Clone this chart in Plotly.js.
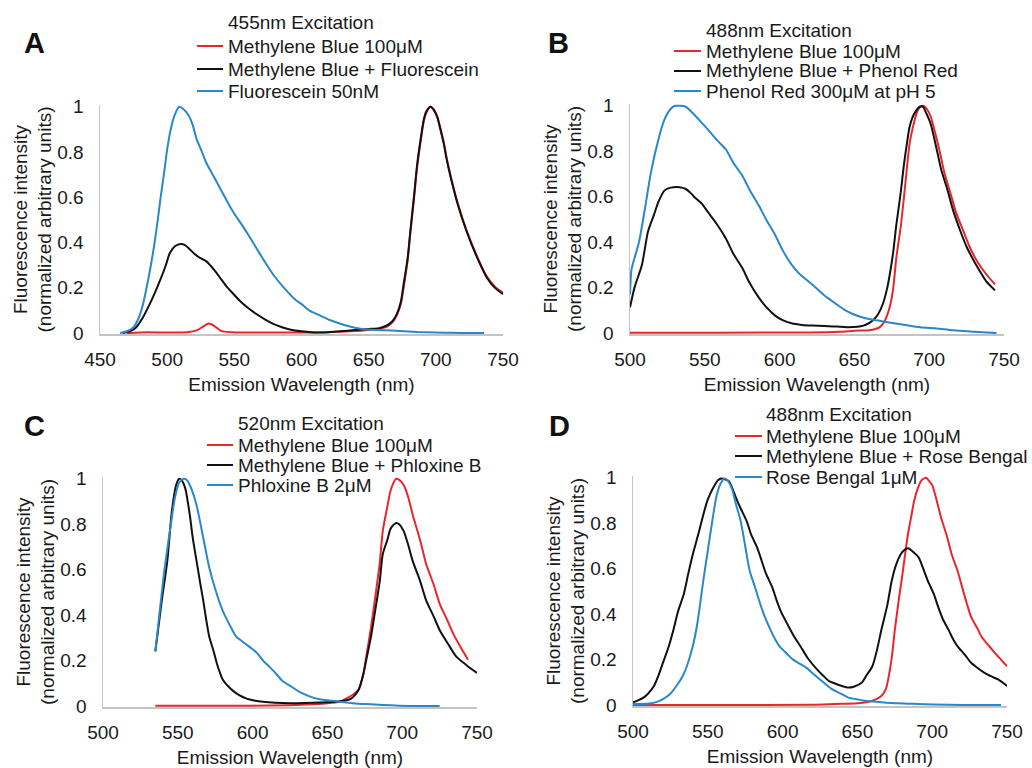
<!DOCTYPE html>
<html>
<head>
<meta charset="utf-8">
<script src="https://cdn.plot.ly/plotly-3.0.1.min.js"></script>
<style>html,body{margin:0;padding:0;background:#fff;}#chart{width:1032px;height:768px;}</style>
</head>
<body>
<div id="chart"></div>
<script>
// ---------- Panel A : 455nm Excitation ----------
const aRedX = [470, 480, 500, 515, 522, 527, 531, 535, 540, 548, 560, 580, 600, 620, 636, 650, 658, 664, 668, 671, 674, 676, 679, 681, 684, 686, 689, 691, 693, 696, 698, 701, 703, 706, 708, 711, 716, 723, 731, 738, 744, 750];
const aRedY = [0, 0.003, 0.003, 0.004, 0.012, 0.03, 0.042, 0.032, 0.01, 0.004, 0.003, 0.003, 0.003, 0.004, 0.008, 0.014, 0.02, 0.03, 0.05, 0.08, 0.13, 0.2, 0.32, 0.44, 0.61, 0.73, 0.86, 0.935, 0.975, 1.0, 0.992, 0.96, 0.915, 0.84, 0.775, 0.695, 0.58, 0.452, 0.335, 0.25, 0.205, 0.178];
const aBlackX = [467, 473, 477, 482, 487, 491, 495, 499, 502, 506, 510, 513, 516, 520, 524, 529, 532, 536, 540, 544, 549, 554, 560, 567, 573, 579, 586, 592, 600, 607, 620, 636, 650, 658, 664, 668, 671, 674, 676, 679, 681, 684, 686, 689, 691, 693, 696, 698, 701, 703, 706, 708, 711, 716, 723, 731, 738, 744, 750];
const aBlackY = [0, 0.01, 0.026, 0.07, 0.128, 0.18, 0.237, 0.3, 0.354, 0.385, 0.394, 0.39, 0.375, 0.352, 0.334, 0.318, 0.3, 0.272, 0.24, 0.208, 0.175, 0.143, 0.112, 0.082, 0.06, 0.041, 0.025, 0.015, 0.008, 0.004, 0.004, 0.012, 0.018, 0.022, 0.035, 0.055, 0.085, 0.14, 0.215, 0.33, 0.45, 0.62, 0.74, 0.87, 0.943, 0.98, 1.0, 0.99, 0.955, 0.91, 0.835, 0.77, 0.69, 0.575, 0.448, 0.33, 0.245, 0.2, 0.172];
const aBlueX = [465, 470, 475, 479, 482, 486, 490, 493, 495, 498, 500, 503, 506, 509, 512, 516, 519, 522, 526, 529, 533, 537, 543, 549, 556, 562, 568, 574, 580, 587, 595, 600, 606, 614, 621, 629, 636, 644, 652, 661, 673, 686, 700, 711, 725, 736];
const aBlueY = [0, 0.008, 0.026, 0.07, 0.128, 0.24, 0.375, 0.5, 0.594, 0.72, 0.812, 0.91, 0.97, 1.0, 0.99, 0.962, 0.92, 0.856, 0.8, 0.754, 0.71, 0.667, 0.6, 0.536, 0.475, 0.419, 0.36, 0.303, 0.25, 0.2, 0.15, 0.128, 0.099, 0.077, 0.058, 0.041, 0.029, 0.019, 0.015, 0.013, 0.009, 0.005, 0.003, 0.001, 0, 0];

// ---------- Panel B : 488nm Excitation (Phenol Red) ----------
const bRedX = [500, 560, 620, 640, 650, 660, 664, 667, 670, 672, 674, 676, 678, 681, 683, 685, 687, 690, 692, 694, 696, 698, 701, 704, 707, 710, 714, 718, 723, 727, 732, 738, 744];
const bRedY = [0.002, 0.002, 0.003, 0.006, 0.01, 0.013, 0.018, 0.026, 0.05, 0.08, 0.125, 0.2, 0.33, 0.47, 0.59, 0.72, 0.838, 0.93, 0.975, 0.995, 1.0, 0.99, 0.953, 0.88, 0.8, 0.71, 0.62, 0.53, 0.446, 0.38, 0.316, 0.26, 0.214];
const bBlackX = [500, 503, 508, 512, 516, 519, 523, 526, 529, 533, 537, 540, 543, 548, 552, 558, 564, 569, 575, 580, 586, 591, 597, 602, 608, 615, 622, 630, 638, 645, 652, 656, 660, 663, 666, 669, 672, 674, 676, 678, 681, 683, 685, 687, 690, 694, 696, 698, 701, 705, 708, 712, 716, 721, 725, 730, 735, 738, 744];
const bBlackY = [0.113, 0.2, 0.301, 0.446, 0.52, 0.577, 0.627, 0.638, 0.642, 0.642, 0.635, 0.62, 0.599, 0.57, 0.533, 0.48, 0.417, 0.35, 0.287, 0.22, 0.157, 0.115, 0.077, 0.057, 0.043, 0.036, 0.033, 0.031, 0.029, 0.026, 0.028, 0.033, 0.045, 0.06, 0.085, 0.128, 0.2, 0.272, 0.36, 0.475, 0.62, 0.736, 0.83, 0.91, 0.965, 0.997, 0.995, 0.968, 0.92, 0.809, 0.72, 0.635, 0.54, 0.446, 0.38, 0.316, 0.26, 0.229, 0.188];
const bBlueX = [500, 501, 503, 506, 510, 514, 519, 523, 527, 530, 533, 537, 543, 548, 552, 558, 564, 569, 575, 580, 586, 591, 597, 602, 608, 613, 619, 625, 630, 638, 644, 649, 655, 660, 666, 672, 683, 694, 705, 716, 730, 745];
const bBlueY = [0.17, 0.28, 0.33, 0.4, 0.548, 0.707, 0.852, 0.939, 0.985, 1.0, 1.0, 0.997, 0.961, 0.925, 0.896, 0.85, 0.809, 0.75, 0.693, 0.63, 0.562, 0.5, 0.432, 0.365, 0.301, 0.262, 0.229, 0.195, 0.165, 0.127, 0.1, 0.084, 0.07, 0.062, 0.055, 0.048, 0.037, 0.026, 0.02, 0.012, 0.006, 0];

// ---------- Panel C : 520nm Excitation (Phloxine B) ----------
const cRedX = [535, 560, 600, 625, 640, 650, 658, 663, 667, 671, 674, 676, 679, 682, 685, 687, 690, 692, 694, 696, 698, 701, 704, 707, 712, 716, 721, 725, 730, 734, 739, 744];
const cRedY = [0.001, 0.001, 0.002, 0.004, 0.008, 0.012, 0.02, 0.035, 0.05, 0.074, 0.14, 0.219, 0.34, 0.48, 0.63, 0.77, 0.875, 0.943, 0.98, 1.0, 0.995, 0.973, 0.92, 0.842, 0.73, 0.625, 0.535, 0.451, 0.38, 0.32, 0.26, 0.204];
const cBlackX = [535, 539, 543, 546, 549, 551, 553, 555, 558, 560, 563, 565, 567, 569, 571, 574, 576, 578, 580, 584, 587, 591, 596, 601, 607, 615, 625, 635, 645, 655, 662, 665, 668, 671, 674, 676, 679, 682, 685, 687, 690, 692, 694, 696, 698, 701, 704, 707, 712, 716, 721, 725, 731, 736, 743, 750];
const cBlackY = [0.241, 0.45, 0.64, 0.857, 0.975, 1.0, 0.99, 0.958, 0.842, 0.74, 0.62, 0.54, 0.465, 0.38, 0.306, 0.24, 0.19, 0.15, 0.117, 0.085, 0.067, 0.048, 0.033, 0.025, 0.019, 0.015, 0.013, 0.014, 0.016, 0.019, 0.025, 0.03, 0.045, 0.074, 0.14, 0.204, 0.3, 0.422, 0.55, 0.668, 0.73, 0.777, 0.796, 0.806, 0.8, 0.77, 0.71, 0.639, 0.55, 0.465, 0.395, 0.335, 0.27, 0.219, 0.18, 0.146];
const cBlueX = [535, 538, 541, 545, 548, 551, 554, 556, 558, 561, 563, 567, 571, 576, 580, 583, 586, 589, 593, 596, 600, 603, 607, 612, 616, 620, 626, 632, 638, 645, 652, 658, 667, 676, 687, 698, 712, 725];
const cBlueY = [0.241, 0.422, 0.596, 0.784, 0.914, 0.985, 1.0, 0.995, 0.973, 0.92, 0.871, 0.741, 0.61, 0.494, 0.42, 0.378, 0.34, 0.306, 0.285, 0.27, 0.25, 0.233, 0.2, 0.168, 0.14, 0.11, 0.085, 0.06, 0.043, 0.03, 0.024, 0.019, 0.013, 0.009, 0.005, 0.002, 0, 0];

// ---------- Panel D : 488nm Excitation (Rose Bengal) ----------
const dRedX = [500, 560, 620, 635, 650, 660, 666, 669, 671, 673, 675, 678, 680, 682, 684, 686, 688, 691, 693, 696, 698, 700, 703, 706, 710, 713, 717, 720, 723, 726, 730, 733, 738, 742, 746, 750];
const dRedY = [0, 0, 0.002, 0.005, 0.008, 0.019, 0.04, 0.07, 0.128, 0.21, 0.33, 0.48, 0.57, 0.67, 0.76, 0.83, 0.9, 0.965, 0.99, 1.0, 0.985, 0.968, 0.9, 0.823, 0.74, 0.664, 0.59, 0.519, 0.45, 0.388, 0.34, 0.301, 0.26, 0.229, 0.2, 0.171];
const dBlackX = [500, 503, 507, 510, 514, 517, 520, 524, 527, 530, 534, 537, 540, 544, 547, 550, 554, 557, 559, 561, 564, 566, 569, 572, 576, 579, 583, 586, 589, 593, 596, 599, 603, 607, 612, 617, 623, 627, 631, 635, 640, 644, 648, 653, 656, 660, 663, 666, 670, 673, 676, 679, 682, 684, 687, 691, 694, 697, 701, 704, 707, 711, 714, 717, 722, 726, 731, 735, 740, 744, 748, 750];
const dBlackY = [0.012, 0.02, 0.033, 0.05, 0.084, 0.13, 0.186, 0.26, 0.33, 0.41, 0.49, 0.58, 0.664, 0.76, 0.838, 0.905, 0.961, 0.99, 0.997, 0.995, 0.986, 0.96, 0.91, 0.865, 0.809, 0.75, 0.693, 0.635, 0.577, 0.52, 0.461, 0.41, 0.359, 0.31, 0.258, 0.205, 0.157, 0.13, 0.106, 0.095, 0.083, 0.077, 0.082, 0.099, 0.13, 0.171, 0.24, 0.33, 0.44, 0.548, 0.62, 0.664, 0.685, 0.69, 0.675, 0.649, 0.6, 0.548, 0.49, 0.432, 0.38, 0.33, 0.29, 0.258, 0.22, 0.186, 0.16, 0.142, 0.125, 0.113, 0.095, 0.084];
const dBlueX = [500, 511, 516, 520, 525, 529, 533, 536, 540, 543, 547, 550, 553, 556, 559, 561, 563, 566, 569, 572, 575, 578, 582, 585, 588, 592, 595, 598, 603, 607, 612, 616, 621, 625, 633, 639, 644, 650, 655, 666, 677, 690, 711, 730, 746];
const dBlueY = [0.005, 0.007, 0.014, 0.026, 0.05, 0.084, 0.125, 0.171, 0.26, 0.359, 0.548, 0.68, 0.81, 0.925, 0.98, 0.997, 0.99, 0.954, 0.88, 0.809, 0.7, 0.591, 0.51, 0.446, 0.39, 0.33, 0.29, 0.258, 0.225, 0.2, 0.18, 0.164, 0.135, 0.113, 0.07, 0.05, 0.033, 0.025, 0.019, 0.013, 0.008, 0.005, 0.001, 0, 0];

// ---------- Texts ----------
const panelLetters = ["A", "B", "C", "D"];
const legendTitles = ["455nm Excitation", "488nm Excitation", "520nm Excitation", "488nm Excitation"];
const seriesNames = [
  ["Methylene Blue 100μM", "Methylene Blue + Fluorescein", "Fluorescein 50nM"],
  ["Methylene Blue 100μM", "Methylene Blue + Phenol Red", "Phenol Red 300μM at pH 5"],
  ["Methylene Blue 100μM", "Methylene Blue + Phloxine B", "Phloxine B 2μM"],
  ["Methylene Blue 100μM", "Methylene Blue + Rose Bengal", "Rose Bengal 1μM"]
];
const xTickVals = [[450, 500, 550, 600, 650, 700, 750], [500, 550, 600, 650, 700, 750], [500, 550, 600, 650, 700, 750], [500, 550, 600, 650, 700, 750]];
const yTickVals = [0, 0.2, 0.4, 0.6, 0.8, 1];
const xTitle = "Emission Wavelength (nm)";
const yTitle = "Fluorescence intensity<br>(normalized arbitrary units)";

// ---------- Styling / layout ----------
const W = 1032, H = 768;
const colors = ["#e8262c", "#111111", "#2a87c9"];
const FONT = "Liberation Sans, Arial, sans-serif";
const PX = v => v / W, PY = v => 1 - v / H;

const seriesData = [
  [[aRedX, aRedY], [aBlackX, aBlackY], [aBlueX, aBlueY]],
  [[bRedX, bRedY], [bBlackX, bBlackY], [bBlueX, bBlueY]],
  [[cRedX, cRedY], [cBlackX, cBlackY], [cBlueX, cBlueY]],
  [[dRedX, dRedY], [dBlackX, dBlackY], [dBlueX, dBlueY]]
];
// plot area boxes in px: [left, right, top, bottom]
const boxes = [[100, 503, 105, 334], [630, 1004, 104, 334], [103, 477, 477, 707], [633, 1007, 476, 706]];
const xRanges = [[450, 750], [500, 750], [500, 750], [500, 750]];
const letterPos = [[34, 43], [558, 43], [34, 426], [559, 426]];
// legend: [lineStart, lineEnd, textX, titleY, row1, row2, row3]
const legendPos = [
  [197, 223, 226, 23, 46, 69, 91],
  [674, 701, 704, 30, 51, 71, 91],
  [207, 233, 236, 423, 445, 465, 485],
  [735, 762, 764, 414, 436, 456, 477]
];

const traces = [];
const layout = {
  width: W, height: H,
  margin: {l: 0, r: 0, t: 0, b: 0},
  paper_bgcolor: "#ffffff", plot_bgcolor: "#ffffff",
  showlegend: false,
  font: {family: FONT, size: 19, color: "#1a1a1a"},
  annotations: [], shapes: []
};

for (let p = 0; p < 4; p++) {
  const sfx = p === 0 ? "" : String(p + 1);
  const [l, r, t, b] = boxes[p];
  for (let s = 0; s < 3; s++) {
    traces.push({
      type: "scatter", mode: "lines",
      x: seriesData[p][s][0], y: seriesData[p][s][1],
      name: seriesNames[p][s],
      xaxis: "x" + sfx, yaxis: "y" + sfx,
      line: {color: colors[s], width: 2, shape: "spline", smoothing: 0.7},
      hoverinfo: "x+y+name"
    });
  }
  layout["xaxis" + sfx] = {
    domain: [PX(l), PX(r)], anchor: "y" + sfx,
    range: xRanges[p], tickvals: xTickVals[p],
    showgrid: false, zeroline: false, ticks: "",
    showline: true, linecolor: "#c4c4c4", linewidth: 1.5,
    ticklabelstandoff: 8,
    tickfont: {family: FONT, size: 19, color: "#1a1a1a"},
    title: {text: xTitle, font: {family: FONT, size: 19, color: "#1a1a1a"}, standoff: 8},
    automargin: false
  };
  layout["yaxis" + sfx] = {
    domain: [PY(b), PY(t)], anchor: "x" + sfx,
    range: [-0.004, 1.008], tickvals: yTickVals,
    showgrid: false, zeroline: false, ticks: "",
    showline: true, linecolor: "#c4c4c4", linewidth: 1.5,
    ticklabelstandoff: 11,
    tickfont: {family: FONT, size: 19, color: "#1a1a1a"},
    title: {text: yTitle, font: {family: FONT, size: 19, color: "#1a1a1a"}, standoff: 0},
    automargin: false
  };
  // panel letter
  layout.annotations.push({
    xref: "paper", yref: "paper", x: PX(letterPos[p][0]), y: PY(letterPos[p][1]),
    text: "<b>" + panelLetters[p] + "</b>", showarrow: false,
    xanchor: "center", yanchor: "middle",
    font: {family: FONT, size: 29, color: "#111111"}
  });
  // legend block
  const lp = legendPos[p];
  layout.annotations.push({
    xref: "paper", yref: "paper", x: PX(lp[2]), y: PY(lp[3]),
    text: legendTitles[p], showarrow: false, xanchor: "left", yanchor: "middle",
    font: {family: FONT, size: 19, color: "#1a1a1a"}
  });
  for (let s = 0; s < 3; s++) {
    layout.annotations.push({
      xref: "paper", yref: "paper", x: PX(lp[2]), y: PY(lp[4 + s]),
      text: seriesNames[p][s], showarrow: false, xanchor: "left", yanchor: "middle",
      font: {family: FONT, size: 19, color: "#1a1a1a"}
    });
    layout.shapes.push({
      type: "line", xref: "paper", yref: "paper",
      x0: PX(lp[0]), x1: PX(lp[1]), y0: PY(lp[4 + s]), y1: PY(lp[4 + s]),
      line: {color: colors[s], width: 2}
    });
  }
}

Plotly.newPlot("chart", traces, layout, {displayModeBar: false, staticPlot: true});
</script>
</body>
</html>
